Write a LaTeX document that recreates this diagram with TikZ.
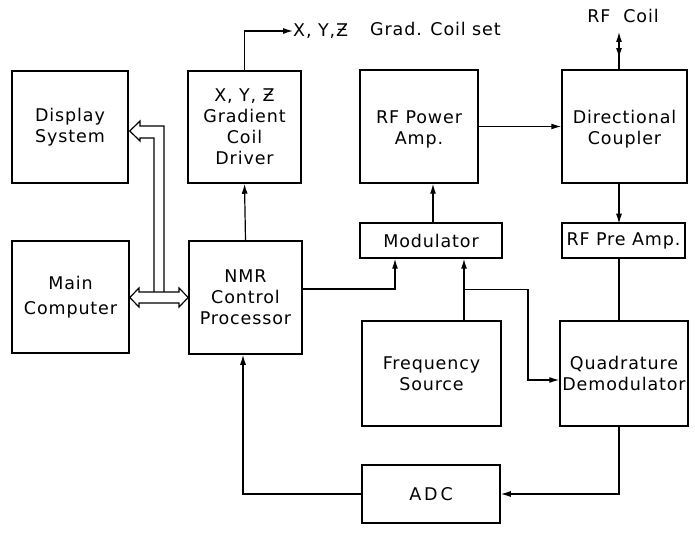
\documentclass[tikz,border=0pt]{standalone}
\usepackage{fontspec}
\setmainfont[LetterSpace=5]{DejaVu Sans}
\usetikzlibrary{arrows.meta,decorations.markings,calc}
\begin{document}
\begin{tikzpicture}[x=1pt,y=1pt,
  box/.style={draw,line width=1.5pt,inner sep=0pt,align=center,font=\fontsize{17.5}{21}\selectfont},
  conn/.style={line width=1.2pt},
  arr/.style={conn,-{Latex[length=10pt,width=6pt]}},
  lbl/.style={inner sep=0pt,font=\fontsize{17.5}{21}\selectfont}]
\useasboundingbox (0,0) rectangle (695,533);
% boxes
\node[box,minimum width=116pt,minimum height=112pt] (disp) at (70,406) {Display\\System};
\node[box,minimum width=117pt,minimum height=112pt] (mc) at (70.5,236) {Main\\[4pt]Computer};
\node[box,minimum width=113pt,minimum height=112pt] (grad) at (244.5,406) {X, Y, Ƶ\\Gradient\\Coil\\Driver};
\node[box,minimum width=113pt,minimum height=113pt] (nmr) at (245.5,235.5) {NMR\\Control\\Processor};
\node[box,minimum width=118pt,minimum height=113pt] (rfpa) at (419,406.5) {\mbox{}\\[-3pt]RF Power\\Amp.};
\node[box,minimum width=125pt,minimum height=113pt] (dc) at (624.5,406.5) {\mbox{}\\[-3pt]Directional\\Coupler};
\node[box,minimum width=142pt,minimum height=35pt] (mod) at (431,292.5) {Modulator};
\node[box,minimum width=123pt,minimum height=35pt] (pre) at (623.5,292.5) {RF Pre Amp.};
\node[box,minimum width=139pt,minimum height=105pt] (fs) at (431.5,159.5) {Frequency\\Source};
\node[box,minimum width=128pt,minimum height=105pt] (qd) at (624,159.5) {Quadrature\\Demodulator};
\node[box,minimum width=138pt,minimum height=58pt] (adc) at (431,39) {A\,D\,C};
% free labels
\node[lbl,anchor=west] (xyz) at (293,502) {X, Y,Ƶ};
\node[lbl,anchor=west] (gcs) at (370,504) {Grad. Coil set};
\node[lbl] (rfc) at (623,517) {RF\ \ Coil};
\coordinate (coil) at (619,501);
% connectors
\draw[arr] (nmr.north) -- (grad.south);
\draw[arr] (grad.north) |- (xyz.west);
\draw[arr] ($(nmr.east)+(0,8.5)$) -| ($(mod.south)+(-36,0)$);
\draw[arr] ($(fs.north)+(32.5,0)$) -- ($(mod.south)+(33,0)$);
\coordinate (br) at ($(fs.north)+(32.5,31)$);
\draw[arr] (br) -- ++(64,0) |- ($(qd.west)+(0,-6.5)$);
\draw[arr] ($(mod.north)+(2,0)$) -- ($(rfpa.south)+(14,0)$);
\draw[arr] (rfpa.east) -- (dc.west);
\draw[arr] ($(dc.south)+(-5.5,0)$) -- ($(pre.south)+(-4.5,35)$);
\draw[conn] ($(pre.south)+(-4.5,0)$) -- ($(qd.north)+(-5,0)$);
\draw[arr] ($(qd.south)+(-5,0)$) |- (adc.east);
\draw[arr] (adc.west) -| ($(nmr.south)+(-2.5,0)$);
\draw[arr,postaction={decorate},decoration={markings,mark=at position 0.3 with {\arrowreversed{Latex[length=10pt,width=6pt]}}}] ($(dc.north)+(-5.5,0)$) -- (coil);
% hollow bus arrows
\draw[conn,line join=miter] (164,241) -- (164,407) -- (140,407) -- (140,412) -- (mc.east |- 0,402) -- (140,392) -- (140,395) -- (154,395) -- (154,241);
\draw[conn,line join=miter] (139,241) -- (179,241) -- (179,245) -- (nmr.west |- 0,235.5) -- (179,226) -- (179,230) -- (139,230) -- (139,226) -- (mc.east |- 0,235.5) -- (139,245) -- cycle;
\end{tikzpicture}
\end{document}
